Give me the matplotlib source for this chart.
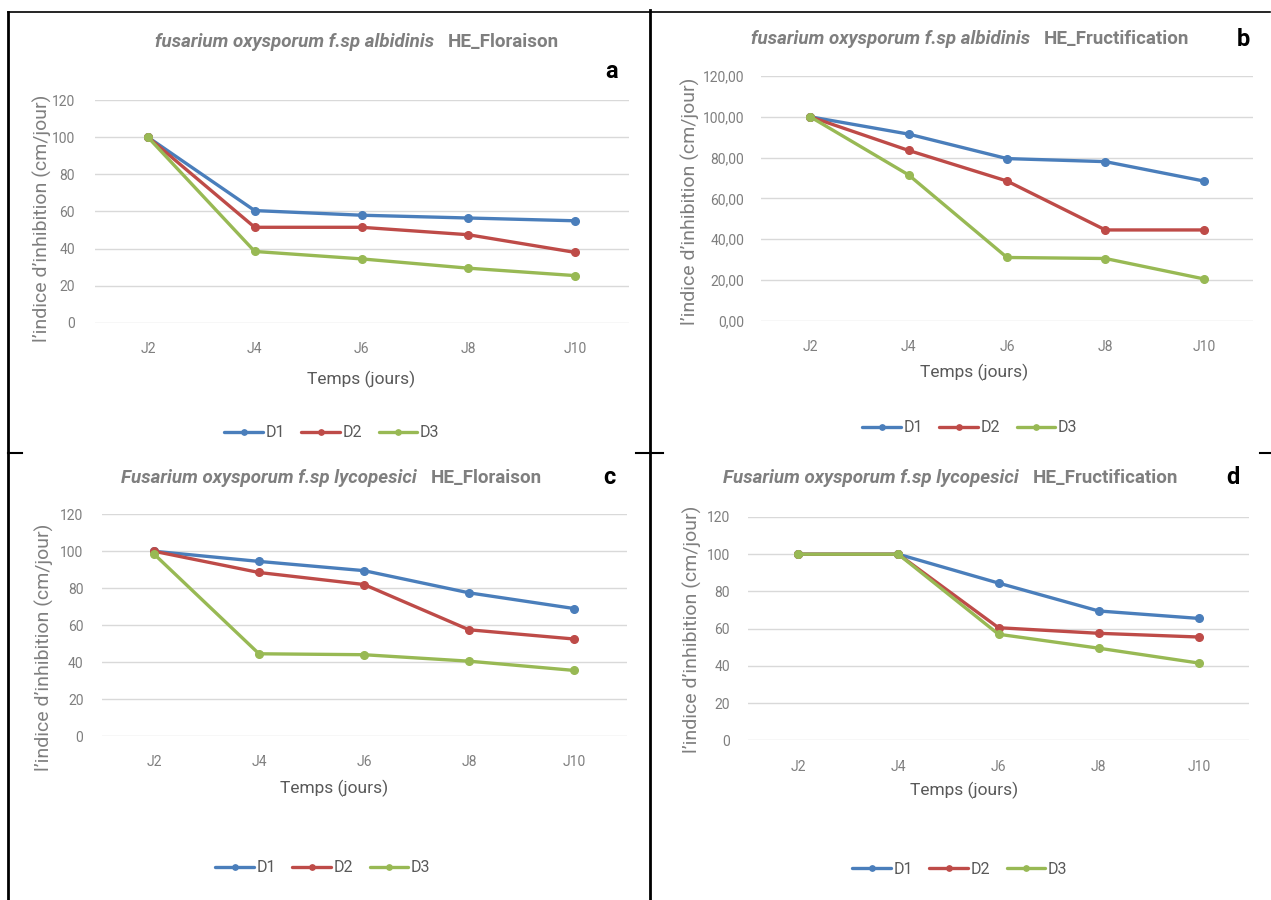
import matplotlib
matplotlib.use("Agg")
import matplotlib.pyplot as plt
from matplotlib import font_manager
from matplotlib.lines import Line2D

W, H = 1271, 900

# pick a narrow sans if one is installed (the original is Calibri in Excel)
names = {f.name for f in font_manager.fontManager.ttflist}
FONT = next((n for n in ["Liberation Sans Narrow", "Roboto", "Liberation Sans"] if n in names), "DejaVu Sans")
plt.rcParams['font.family'] = [FONT, 'DejaVu Sans']

COL_D1 = "#4a7ebb"
COL_D2 = "#be4b48"
COL_D3 = "#98b954"
GRAY = "#7f7f7f"

DAYS = ["J2", "J4", "J6", "J8", "J10"]
SERIES = ["D1", "D2", "D3"]
Y_TICKS = [0, 20, 40, 60, 80, 100, 120]

# a: albidinis, floraison
A_D1 = [100, 60.5, 58, 56.5, 55]
A_D2 = [100, 51.5, 51.5, 47.5, 38]
A_D3 = [100, 38.5, 34.5, 29.5, 25.5]
# b: albidinis, fructification
B_D1 = [100, 91.5, 79.5, 78, 68.5]
B_D2 = [100, 83.5, 68.5, 44.5, 44.5]
B_D3 = [100, 71.5, 31, 30.5, 20.5]
# c: lycopesici, floraison
C_D1 = [100, 94.5, 89.5, 77.5, 69]
C_D2 = [100, 88.5, 82, 57.5, 52.5]
C_D3 = [98.5, 44.5, 44, 40.5, 35.5]
# d: lycopesici, fructification
D_D1 = [100, 100, 84.5, 69.5, 65.5]
D_D2 = [100, 100, 60.5, 57.5, 55.5]
D_D3 = [100, 100, 57, 49.5, 41.5]

SPECIES_A = "fusarium oxysporum f.sp albidinis"
SPECIES_C = "Fusarium oxysporum f.sp lycopesici"
STAGE_FLO = "HE_Floraison"
STAGE_FRU = "HE_Fructification"


def fx(x):
    return x / W


def fy(y):
    return 1 - y / H


def draw_panel(fig, box, values, species, stage, letter, layout, comma=False):
    left, top, right, bottom = box
    ax = fig.add_axes([fx(left), fy(bottom), fx(right - left), (bottom - top) / H])
    x = list(range(len(DAYS)))
    for name, vals, col in zip(SERIES, values, [COL_D1, COL_D2, COL_D3]):
        ax.plot(x, vals, color=col, linewidth=2.4, marker='o', markersize=5.5,
                label=name, solid_capstyle='round')
    ax.set_xlim(-0.5, len(DAYS) - 0.5)
    ax.set_ylim(0, 120)
    ax.set_xticks(x)
    ax.set_xticklabels(DAYS)
    ax.set_yticks(Y_TICKS)
    if comma:
        ax.set_yticklabels([f"{v},00" for v in Y_TICKS])
    ax.grid(axis='y', color='#d9d9d9', linewidth=1.0)
    ax.set_axisbelow(True)
    for s in ax.spines.values():
        s.set_visible(False)
    ax.tick_params(length=0, labelsize=10, labelcolor=GRAY)
    ax.tick_params(axis='x', pad=14)
    ax.tick_params(axis='y', pad=layout['ypad'])

    # title: italic species name + upright stage
    gx, ty = layout['title']
    fig.text(fx(gx - 7), fy(ty), species, ha='right', va='center', fontsize=13.5,
             style='italic', fontweight='bold', color=GRAY)
    fig.text(fx(gx + 7), fy(ty), stage, ha='left', va='center', fontsize=13.5,
             fontweight='bold', color=GRAY)
    lx, ly = layout['letter']
    fig.text(fx(lx), fy(ly), letter, ha='center', va='center', fontsize=17,
             fontweight='bold', color='black')
    xx, xy = layout['xlabel']
    fig.text(fx(xx), fy(xy), "Temps (jours)", ha='center', va='center',
             fontsize=12.5, color='#595959')
    yx, yy = layout['ylabel']
    fig.text(fx(yx), fy(yy), "l’indice d’inhibition (cm/jour)", ha='center',
             va='center', rotation=90, fontsize=14, color=GRAY)
    gx2, gy2 = layout['legend']
    ax.legend(loc='center', bbox_to_anchor=(fx(gx2), fy(gy2)),
              bbox_transform=fig.transFigure, ncol=3, frameon=False,
              fontsize=11.5, handlelength=2.4, columnspacing=1.0,
              handletextpad=0.2, markerscale=0.7, labelcolor='#595959')
    return ax


fig = plt.figure(figsize=(W / 100, H / 100), dpi=100)

draw_panel(fig, (94.5, 100, 628.5, 323), [A_D1, A_D2, A_D3], SPECIES_A, STAGE_FLO, "a",
           dict(title=(441, 42), letter=(612, 72), xlabel=(361, 379),
                ylabel=(42, 218), legend=(332, 433), ypad=14))
draw_panel(fig, (761, 76, 1253, 320.7), [B_D1, B_D2, B_D3], SPECIES_A, STAGE_FRU, "b",
           dict(title=(1037, 39), letter=(1243, 40), xlabel=(974, 372),
                ylabel=(690, 201), legend=(970, 428), ypad=12), comma=True)
draw_panel(fig, (101.5, 514.3, 626.5, 736), [C_D1, C_D2, C_D3], SPECIES_C, STAGE_FLO, "c",
           dict(title=(424, 478), letter=(609, 478), xlabel=(334, 788),
                ylabel=(44, 647), legend=(323, 868), ypad=13))
draw_panel(fig, (748, 517, 1249, 740.3), [D_D1, D_D2, D_D3], SPECIES_C, STAGE_FRU, "d",
           dict(title=(1026, 478), letter=(1233, 477), xlabel=(964, 790),
                ylabel=(692, 629), legend=(960, 869), ypad=13))

# frame lines around the four panels
frame = [
    ((8, 8), (12, 900), 2.0),
    ((650, 650), (10, 900), 2.0),
    ((8, 1270), (12, 12), 1.2),
    ((8, 22), (453, 453), 1.5),
    ((636, 663), (453, 453), 1.5),
    ((1260, 1271), (453, 453), 1.5),
]
for xs, ys, lw in frame:
    fig.add_artist(Line2D([fx(v) for v in xs], [fy(v) for v in ys],
                          color='black', linewidth=lw))

fig.savefig("out.png", dpi=100)
